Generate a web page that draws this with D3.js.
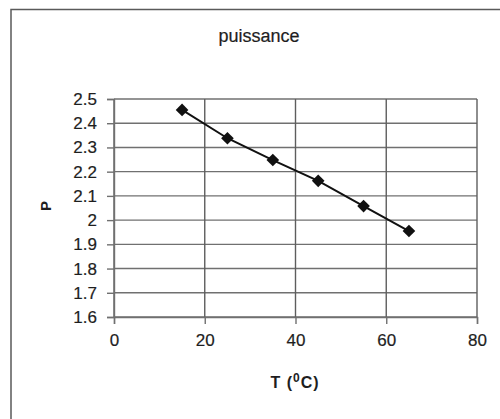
<!DOCTYPE html>
<html>
<head>
<meta charset="utf-8">
<script src="https://cdn.jsdelivr.net/npm/d3@7"></script>
<style>
  body { margin: 0; background: #fff; }
  text { font-family: "Liberation Sans", Arial, sans-serif; fill: #1e1e1e; }
</style>
</head>
<body>
<div id="chart"></div>
<script>
// puissance P vs temperature T
const temps = [15, 25, 35, 45, 55, 65];
const power = [2.455, 2.338, 2.248, 2.162, 2.058, 1.955];
const xTicks = [0, 20, 40, 60, 80];
const yTicks = [1.6, 1.7, 1.8, 1.9, 2, 2.1, 2.2, 2.3, 2.4, 2.5];

const width = 500, height = 419;
const margin = { top: 99, right: 23, bottom: 102, left: 114 };
const innerW = width - margin.left - margin.right;
const innerH = height - margin.top - margin.bottom;

const svg = d3.select("#chart").append("svg")
  .attr("width", width)
  .attr("height", height);

// outer frame (runs off the right and bottom edges)
svg.append("rect")
  .attr("x", 11).attr("y", 9.5)
  .attr("width", 520).attr("height", 440)
  .attr("fill", "none")
  .attr("stroke", "#5a5a5a")
  .attr("stroke-width", 1.5);

const g = svg.append("g").attr("transform", `translate(${margin.left},${margin.top})`);

const x = d3.scaleLinear().domain([0, 80]).range([0, innerW]);
const y = d3.scaleLinear().domain([1.6, 2.5]).range([innerH, 0]);

// grid
g.append("g")
  .selectAll("line")
  .data(yTicks)
  .join("line")
  .attr("x1", 0).attr("x2", innerW)
  .attr("y1", d => y(d)).attr("y2", d => y(d))
  .attr("stroke", "#707070").attr("stroke-width", 1.4);

g.append("g")
  .selectAll("line")
  .data(xTicks)
  .join("line")
  .attr("x1", d => x(d)).attr("x2", d => x(d))
  .attr("y1", 0).attr("y2", innerH)
  .attr("stroke", "#5e5e5e").attr("stroke-width", 1.4);

// axes
const xAxis = g.append("g")
  .attr("transform", `translate(0,${innerH})`)
  .call(d3.axisBottom(x).tickValues(xTicks).tickSize(7).tickPadding(10).tickFormat(d3.format("d")));

const yAxis = g.append("g")
  .call(d3.axisLeft(y).tickValues(yTicks).tickSize(7).tickPadding(10).tickFormat(d => d3.format("")(+d.toFixed(1))));

[xAxis, yAxis].forEach(a => {
  a.select(".domain").attr("stroke", "#707070").attr("stroke-width", 1.4);
  a.selectAll(".tick line").attr("stroke", "#707070").attr("stroke-width", 1.4);
  a.selectAll(".tick text")
    .style("font-family", "'Liberation Sans', Arial, sans-serif")
    .style("font-size", "17px")
    .attr("fill", "#1e1e1e")
    .attr("stroke", "#1e1e1e")
    .attr("stroke-width", 0.2);
});

// line + markers
const pts = temps.map((t, i) => [t, power[i]]);
g.append("path")
  .datum(pts)
  .attr("fill", "none")
  .attr("stroke", "#111")
  .attr("stroke-width", 2)
  .attr("d", d3.line().x(d => x(d[0])).y(d => y(d[1])));

g.selectAll(".mark")
  .data(pts)
  .join("path")
  .attr("class", "mark")
  .attr("d", d3.symbol().type(d3.symbolSquare).size(80))
  .attr("transform", d => `translate(${x(d[0])},${y(d[1])}) rotate(45)`)
  .attr("fill", "#111");

// title
svg.append("text")
  .attr("x", 259)
  .attr("y", 42)
  .attr("text-anchor", "middle")
  .style("font-size", "18px")
  .attr("stroke", "#1e1e1e")
  .attr("stroke-width", 0.2)
  .text("puissance");

// x axis title
const xt = svg.append("text")
  .attr("x", 295)
  .attr("y", 388)
  .attr("text-anchor", "middle")
  .style("font-size", "16px")
  .style("font-weight", "bold")
  .style("letter-spacing", "1px");
xt.append("tspan").text("T (");
xt.append("tspan").attr("dy", -6).style("font-size", "12px").text("0");
xt.append("tspan").attr("dy", 6).text("C)");

// y axis title
svg.append("text")
  .attr("transform", "translate(51,206) rotate(-90)")
  .attr("text-anchor", "middle")
  .style("font-size", "15px")
  .style("font-weight", "bold")
  .text("P");
</script>
</body>
</html>
